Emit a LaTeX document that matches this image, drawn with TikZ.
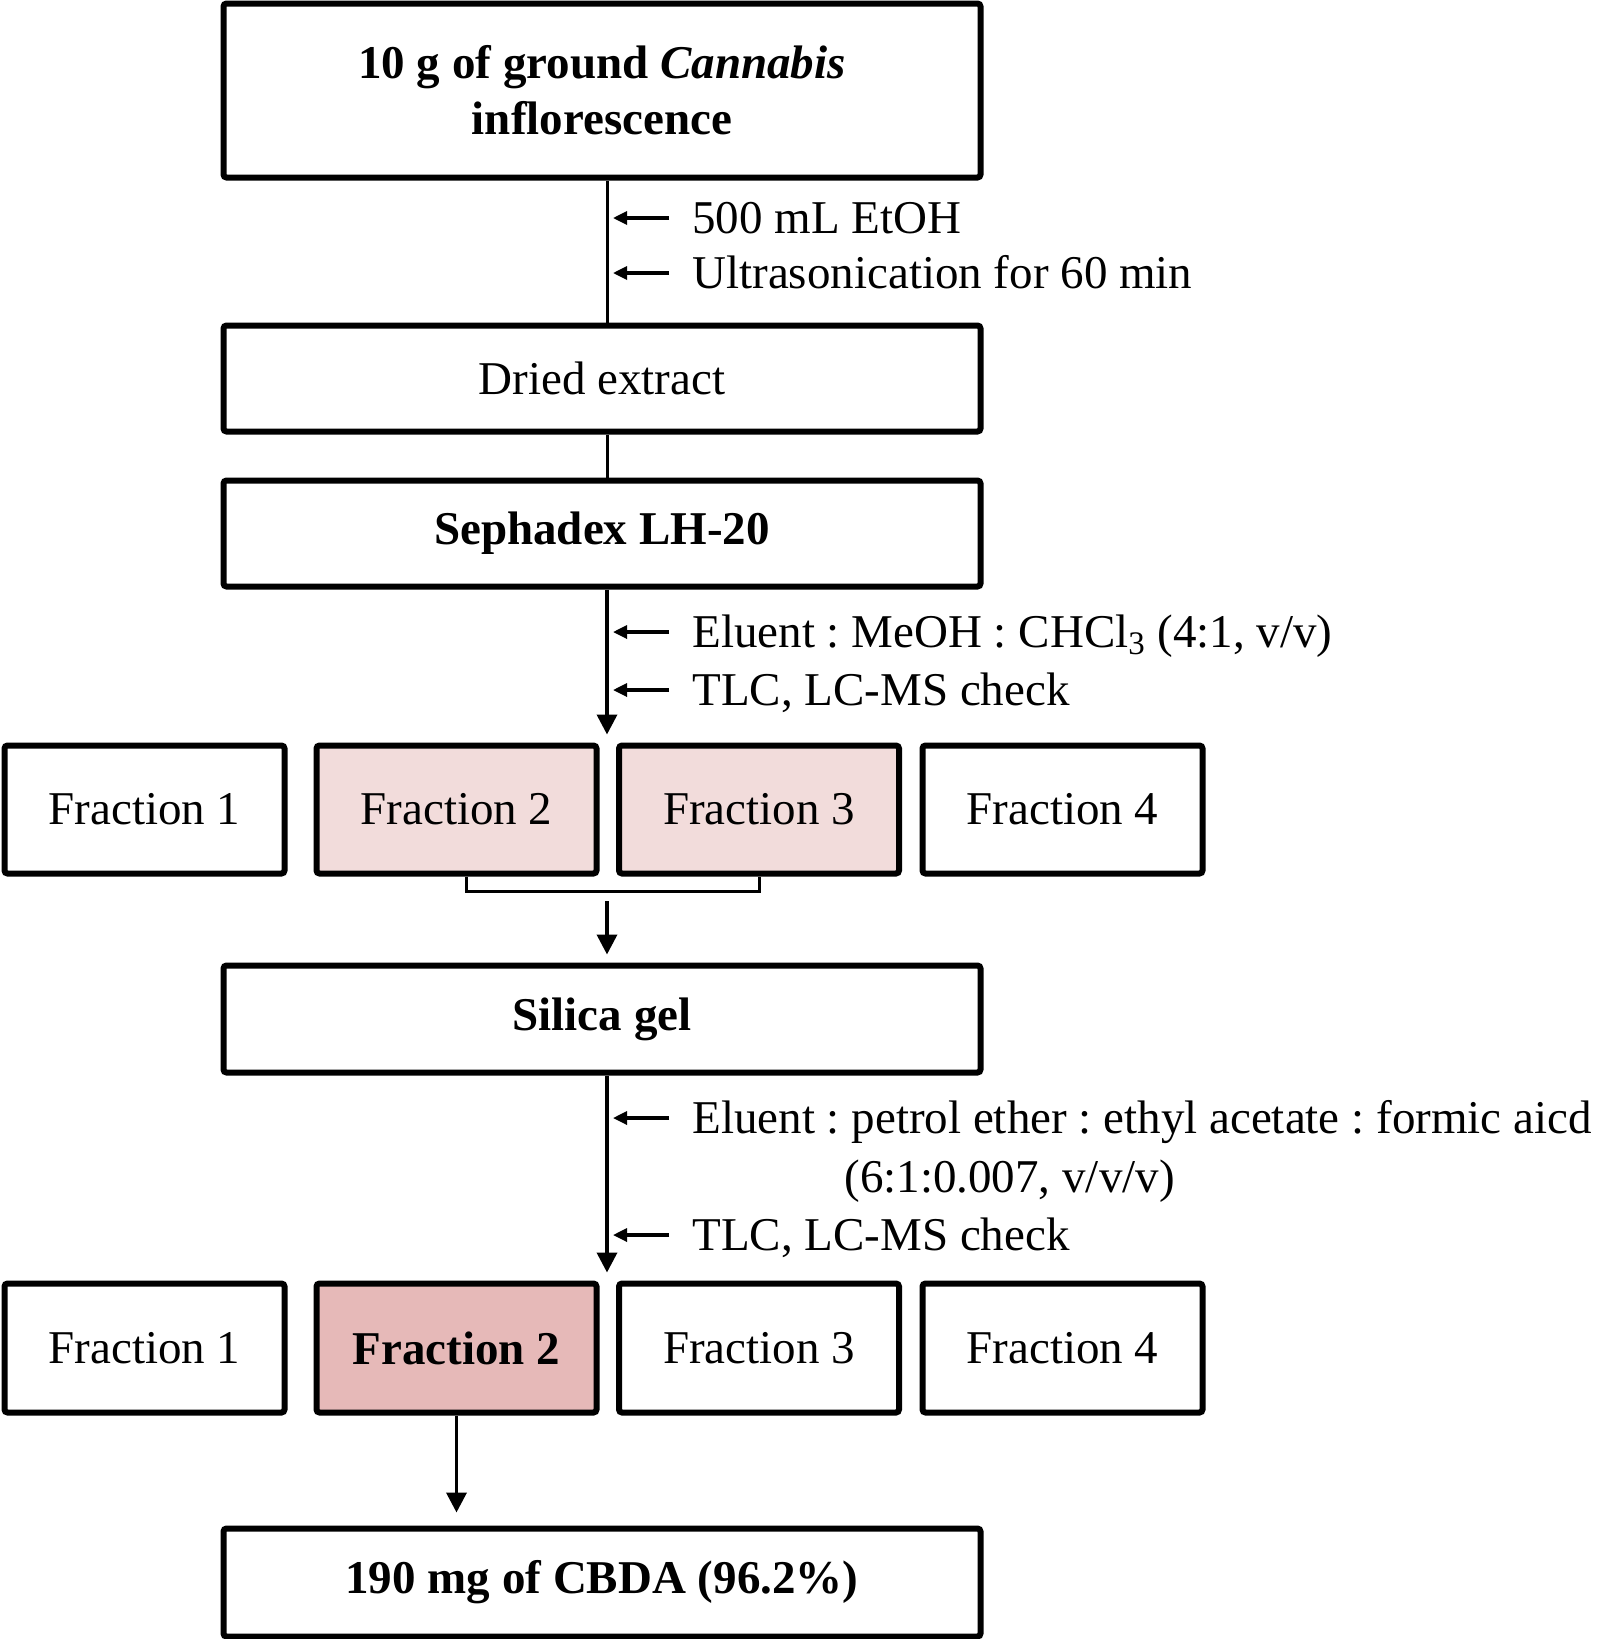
\documentclass[tikz,border=0pt]{standalone}
\usepackage{fontspec}
\setmainfont{Liberation Serif}
\usetikzlibrary{arrows.meta}
\definecolor{paleRose}{HTML}{F2DCDB}
\definecolor{dustyRose}{HTML}{E6B9B8}
\frenchspacing

\begin{document}
\begin{tikzpicture}[x=0.5pt, y=-0.5pt, font=\fontsize{23.5}{28}\selectfont,
	box/.style = {draw, line width=3pt, rounded corners=1.5pt, minimum width=378.5pt, minimum height=53pt, inner sep=0pt},
	frac/.style = {box, minimum width=140pt, minimum height=64pt},
	bold/.style = {font=\fontsize{23.5}{28}\selectfont\bfseries},
	note/.style = {anchor=west, inner sep=0pt, text height=15.5pt, text depth=0pt},
	flow/.style = {line width=1.8pt, -{Triangle[length=10pt,width=10pt]}},
	add/.style = {line width=1.6pt, -{Triangle[length=7pt,width=6.5pt]}}]
		\useasboundingbox (0,0) rectangle (1598,1639);
		\coordinate (spine) at (607,0);
		\coordinate (rail) at (613,0);
		\coordinate (merge) at (607,891);
		
		\node[box, bold, minimum height=87pt, align=center] (plant) at (602,90.5) {10 g of ground \textit{Cannabis}\\inflorescence};
		\node[box] (dried) at (602,378.5) {Dried extract};
		\node[box, bold] (seph) at (602,533.5) {Sephadex LH-20};
		\node[frac] (s1a) at (144.5,809.5) {Fraction 1};
		\node[frac, fill=paleRose] (s1b) at (456.5,809.5) {Fraction 2};
		\node[frac, fill=paleRose] (s1c) at (759,809.5) {Fraction 3};
		\node[frac] (s1d) at (1062.5,809.5) {Fraction 4};
		\node[box, bold, minimum height=53.5pt] (silica) at (602,1019) {Silica gel};
		\node[frac, minimum height=64.5pt] (s2a) at (144.5,1348) {Fraction 1};
		\node[frac, bold, minimum height=64.5pt, fill=dustyRose] (s2b) at (456.5,1348) {Fraction 2};
		\node[frac, minimum height=64.5pt] (s2c) at (759,1348) {Fraction 3};
		\node[frac, minimum height=64.5pt] (s2d) at (1062.5,1348) {Fraction 4};
		\node[box, bold, minimum height=54pt] (cbda) at (602,1582.5) {190 mg of CBDA (96.2\%)};
		
		\node[note] (etoh) at (692,218) {500 mL EtOH};
		\node[note] (sonic) at (692,273) {Ultrasonication for 60 min};
		\node[note] (eluent1) at (692,632) {Eluent : MeOH : CHCl\textsubscript{3} (4:1, v/v)};
		\node[note] (check1) at (692,690) {TLC, LC-MS check};
		\node[note] (eluent2) at (692,1118) {Eluent : petrol ether : ethyl acetate : formic aicd};
		\node[note] (ratio2) at (844,1177) {(6:1:0.007, v/v/v)};
		\node[note] (check2) at (692,1235) {TLC, LC-MS check};
		
		\draw[line width=1.5pt] (plant.south -| spine) -- (dried.north -| spine);
		\draw[line width=1.5pt] (dried.south -| spine) -- (seph.north -| spine);
		\draw[flow, shorten >=4pt] (seph.south -| spine) -- (s1b.north -| spine);
		\draw[line width=1.5pt] ([xshift=5pt]s1b.south) |- (merge) -| (s1c.south);
		\draw[flow, shorten <=5pt, shorten >=4pt] (merge) -- (silica.north -| spine);
		\draw[flow, shorten >=4pt] (silica.south -| spine) -- (s2b.north -| spine);
		\draw[flow, shorten >=6.5pt] (s2b.south) -- (s2b.south |- cbda.north);
		
		\draw[add] ([xshift=-11.5pt]etoh.west) -- (etoh.west -| rail);
		\draw[add] ([xshift=-11.5pt]sonic.west) -- (sonic.west -| rail);
		\draw[add] ([xshift=-11.5pt]eluent1.west) -- (eluent1.west -| rail);
		\draw[add] ([xshift=-11.5pt]check1.west) -- (check1.west -| rail);
		\draw[add] ([xshift=-11.5pt]eluent2.west) -- (eluent2.west -| rail);
		\draw[add] ([xshift=-11.5pt]check2.west) -- (check2.west -| rail);
	\end{tikzpicture}
\end{document}
